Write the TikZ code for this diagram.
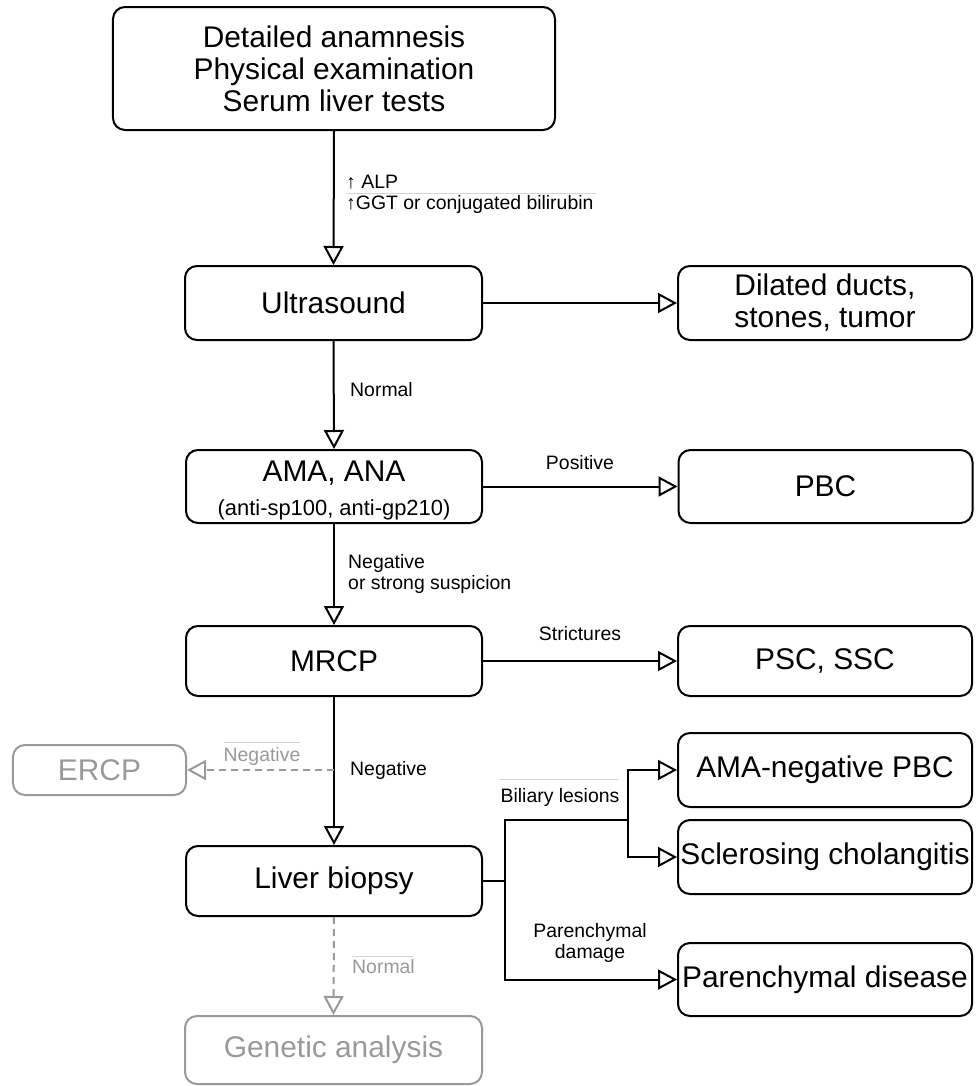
\documentclass[tikz,border=0pt]{standalone}
\usepackage{fontspec}
\setmainfont{Liberation Sans}
\usetikzlibrary{arrows.meta}
\definecolor{greytxt}{HTML}{999999}
\definecolor{greyline}{HTML}{D4D4D4}
\tikzset{
  box/.style={draw, rounded corners=12bp, line width=2bp, inner sep=0pt, align=center,
    font=\fontsize{30}{32}\selectfont},
  greybox/.style={box, draw=greytxt, text=greytxt},
  arr/.style={-{Triangle[open,length=19bp,width=20bp]}, line width=2bp},
  plain/.style={line width=2bp},
  greyarr/.style={arr, draw=greytxt, dash pattern=on 7bp off 5bp},
  lbl/.style={font=\fontsize{19.5}{22}\selectfont, inner sep=0pt},
  greylbl/.style={lbl, text=greytxt},
  over/.style={draw=greyline, line width=1bp}
}
\begin{document}
\begin{tikzpicture}[x=1bp,y=-1bp]
\useasboundingbox (0,0) rectangle (976,1086);
% boxes
\node[box, minimum width=442bp, minimum height=123bp] (top) at (334,68.5)
  {Detailed anamnesis\\Physical examination\\Serum liver tests};
\node[box, minimum width=297bp, minimum height=74bp] (us) at (333.5,303) {Ultrasound};
\node[box, minimum width=294bp, minimum height=74bp] (dil) at (825,303) {Dilated ducts,\\stones, tumor};
\node[box, minimum width=296bp, minimum height=73bp] (ama) at (334,486.5) {};
\node[font=\fontsize{30}{32}\selectfont, inner sep=0pt] (amat) at (334,473) {AMA, ANA};
\node[font=\fontsize{22}{26}\selectfont, inner sep=0pt] (amas) at (334,510) {(anti-sp100, anti-gp210)};
\node[box, minimum width=294bp, minimum height=73bp] (pbc) at (825.5,486.5) {PBC};
\node[box, minimum width=296bp, minimum height=70bp] (mrcp) at (334,661) {MRCP};
\node[box, minimum width=294bp, minimum height=70bp] (psc) at (825,661) {PSC, SSC};
\node[greybox, minimum width=173bp, minimum height=50bp] (ercp) at (99.5,770) {ERCP};
\node[box, minimum width=294bp, minimum height=74bp] (amaneg) at (825,770) {AMA-negative PBC};
\node[box, minimum width=294bp, minimum height=74bp] (scl) at (825,857) {Sclerosing cholangitis};
\node[box, minimum width=296bp, minimum height=70bp] (liver) at (334,881) {Liver biopsy};
\node[box, minimum width=294bp, minimum height=73bp] (par) at (825,979.5) {Parenchymal disease};
\node[greybox, minimum width=297bp, minimum height=68bp] (gen) at (333.5,1050) {Genetic analysis};
% connectors
\draw[arr] (top.south) -- (us.north);
\draw[arr] (us.east) -- (dil.west);
\draw[arr] (us.south) -- (ama.north);
\draw[arr] (ama.east) -- (pbc.west);
\draw[arr] (ama.south) -- (mrcp.north);
\draw[arr] (mrcp.east) -- (psc.west);
\draw[arr] (mrcp.south) -- (liver.north);
\coordinate (ej) at (334,770);
\draw[greyarr] (ej) -- (ercp.east);
\coordinate (j1) at (505,881);
\coordinate (j2) at (628,820);
\draw[plain] (liver.east) -- (j1);
\draw[plain] (j1) |- (j2);
\draw[arr] (j2) |- (amaneg.west);
\draw[arr] (j2) |- (scl.west);
\draw[arr] (j1) |- (par.west);
\draw[greyarr] (liver.south) -- (gen.north);
% labels
\node[lbl, anchor=west] (l1) at (346,182) {↑ ALP};
\node[lbl, anchor=west] (l2) at (346,204) {↑GGT or conjugated bilirubin};
\draw[over] (346,193) -- (596,193);
\node[lbl, anchor=west] (l3) at (350,390) {Normal};
\node[lbl] (l4) at (580,463) {Positive};
\node[lbl, anchor=west, align=left] (l5) at (348,574) {Negative\\or strong suspicion};
\node[lbl] (l6) at (580,634) {Strictures};
\node[lbl, anchor=west] (l7) at (350,770) {Negative};
\node[greylbl] (l8) at (262,756) {Negative};
\draw[over] (224,742) -- (300,742);
\node[lbl] (l9) at (560,797) {Biliary lesions};
\draw[over] (500,779) -- (619,779);
\node[lbl, align=center] (l10) at (590,943) {Parenchymal\\damage};
\node[greylbl, anchor=west] (l11) at (352,967) {Normal};
\draw[over] (352,956) -- (413,956);
\end{tikzpicture}
\end{document}
